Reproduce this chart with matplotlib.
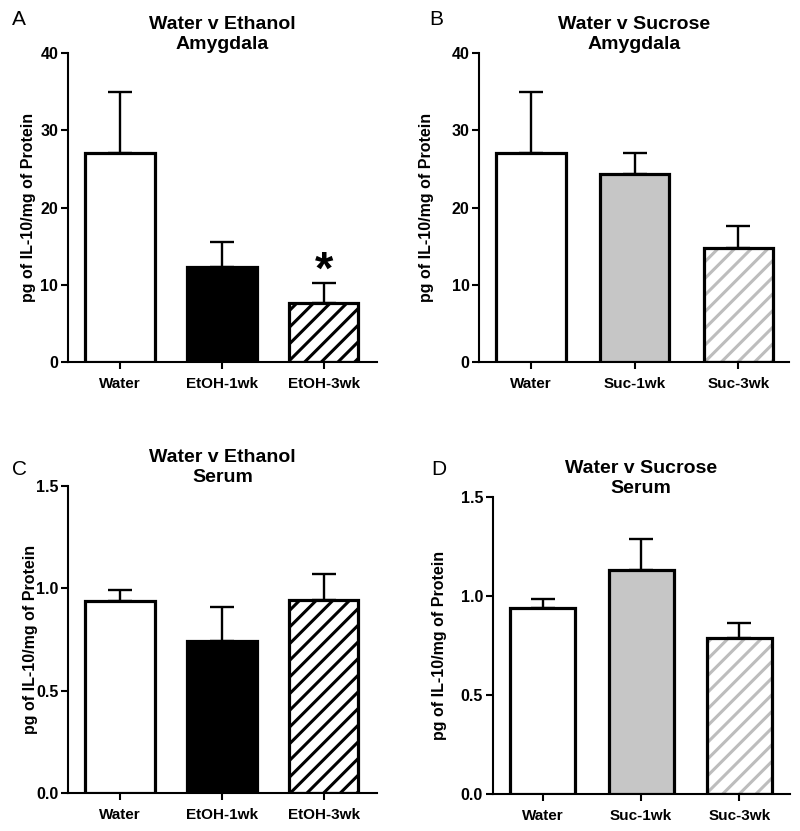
import matplotlib
matplotlib.use('Agg')
import matplotlib.pyplot as plt

plt.rcParams['font.family'] = ['Liberation Sans', 'DejaVu Sans']
plt.rcParams['hatch.linewidth'] = 2.2

# data
groups_eth = ['Water', 'EtOH-1wk', 'EtOH-3wk']
groups_suc = ['Water', 'Suc-1wk', 'Suc-3wk']

amyg_eth_mean = [27.1, 12.3, 7.6]
amyg_eth_sem = [7.9, 3.2, 2.6]
amyg_suc_mean = [27.1, 24.4, 14.7]
amyg_suc_sem = [7.9, 2.6, 2.9]

serum_eth_mean = [0.94, 0.745, 0.945]
serum_eth_sem = [0.05, 0.165, 0.125]
serum_suc_mean = [0.94, 1.13, 0.79]
serum_suc_sem = [0.045, 0.16, 0.075]

amyg_ticks = [0, 10, 20, 30, 40]
serum_ticks = [0.0, 0.5, 1.0, 1.5]
serum_ticklabels = ['0.0', '0.5', '1.0', '1.5']

ylab = 'pg of IL-10/mg of Protein'

# fill, hatch, hatch colour for each bar
eth_style = [('white', None, None), ('black', None, None), ('white', '//', 'black')]
suc_style = [('white', None, None), ('#c6c6c6', None, None), ('white', '//', '#bdbdbd')]


def panel(ax, names, means, sems, styles, ticks, ticklabels, ymax, title, xlim, width, labelpad):
    x = list(range(len(names)))
    for i in x:
        fill, hatch, hcol = styles[i]
        if hatch:
            ax.bar(i, means[i], width, color=fill, edgecolor=hcol, hatch=hatch, linewidth=0, zorder=2)
            ax.bar(i, means[i], width, fill=False, edgecolor='black', linewidth=2.3, zorder=3)
        else:
            ax.bar(i, means[i], width, color=fill, edgecolor='black', linewidth=2.3, zorder=3)
    ax.errorbar(x, means, yerr=[[0] * len(x), sems], fmt='none', ecolor='black',
                elinewidth=1.7, capsize=8.5, capthick=1.7, zorder=1)
    ax.set_xlim(*xlim)
    ax.set_ylim(0, ymax)
    ax.set_xticks(x)
    ax.set_xticklabels(names, fontsize=11, fontweight='bold')
    ax.set_yticks(ticks)
    ax.set_yticklabels(ticklabels, fontsize=11.5, fontweight='bold')
    ax.set_ylabel(ylab, fontsize=11.5, fontweight='bold', labelpad=labelpad)
    ax.set_title(title, fontsize=14, fontweight='bold', pad=0.5, linespacing=1.2)
    for s in ['top', 'right']:
        ax.spines[s].set_visible(False)
    for s in ['left', 'bottom']:
        ax.spines[s].set_linewidth(1.5)
    ax.tick_params(direction='out', width=1.5, length=5, pad=2)
    ax.tick_params(axis='x', pad=6)


fig = plt.figure(figsize=(8, 8.31), dpi=100)

axA = fig.add_axes([0.085, 0.5644, 0.386, 0.3718])
panel(axA, groups_eth, amyg_eth_mean, amyg_eth_sem, eth_style, amyg_ticks,
      [str(t) for t in amyg_ticks], 40, 'Water v Ethanol\nAmygdala', (-0.51, 2.52), 0.68, 3)
# significance star above EtOH-3wk
axA.text(2, amyg_eth_mean[2] + amyg_eth_sem[2] - 1.3, '*', ha='center', va='bottom',
         fontsize=34, fontweight='bold')

axB = fig.add_axes([0.599, 0.5644, 0.3875, 0.3718])
panel(axB, groups_suc, amyg_suc_mean, amyg_suc_sem, suc_style, amyg_ticks,
      [str(t) for t in amyg_ticks], 40, 'Water v Sucrose\nAmygdala', (-0.50, 2.49), 0.67, 13)

axC = fig.add_axes([0.085, 0.0457, 0.386, 0.3694])
panel(axC, groups_eth, serum_eth_mean, serum_eth_sem, eth_style, serum_ticks,
      serum_ticklabels, 1.5, 'Water v Ethanol\nSerum', (-0.51, 2.52), 0.68, -1.5)

axD = fig.add_axes([0.616, 0.0445, 0.371, 0.3574])
panel(axD, groups_suc, serum_suc_mean, serum_suc_sem, suc_style, serum_ticks,
      serum_ticklabels, 1.5, 'Water v Sucrose\nSerum', (-0.51, 2.51), 0.66, 10)

# panel letters
fig.text(12 / 800, 1 - 10 / 831, 'A', fontsize=15, va='top', ha='left')
fig.text(429 / 800, 1 - 10 / 831, 'B', fontsize=15, va='top', ha='left')
fig.text(12 / 800, 1 - 460 / 831, 'C', fontsize=15, va='top', ha='left')
fig.text(431 / 800, 1 - 460 / 831, 'D', fontsize=15, va='top', ha='left')

fig.savefig('out.png', dpi=100)
